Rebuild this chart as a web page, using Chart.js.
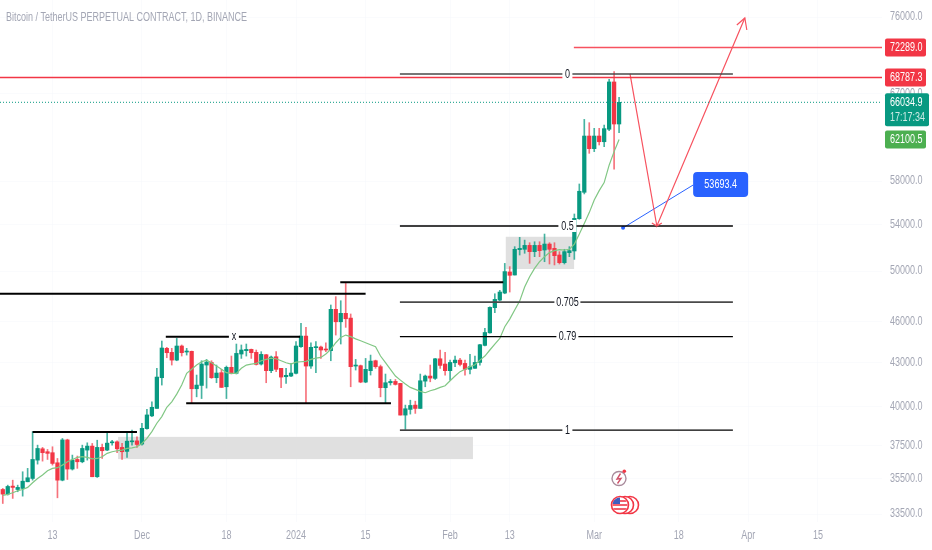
<!DOCTYPE html>
<html>
<head>
<meta charset="utf-8">
<title>Bitcoin / TetherUS</title>
<script src="https://cdn.jsdelivr.net/npm/chart.js@4/dist/chart.umd.min.js"></script>
<style>
  html, body { margin: 0; padding: 0; background: #fff; }
  canvas { display: block; }
</style>
</head>
<body>
<canvas id="grafica" width="932" height="550"></canvas>
<script>
/* day 0 is 2024-01-01, the first candle is 2023-11-03 */
var firstDay = -59;
var opens = [
  34890,34625,35085,34890,34950,35335,35530,36620,37310,37130,
  37070,36460,35430,37860,36085,36660,36520,37230,37475,35630,
  37395,37230,37680,37740,37395,37150,37740,37800,37600,38570,
  39390,39875,41945,44025,43735,43180,44195,43760,43810,41190,
  41415,42830,43015,41945,42295,41325,42670,42250,43615,43855,
  43950,43735,42900,43565,42435,43420,42600,42015,42060,42250,
  44145,44925,42760,44075,44120,43950,43855,46950,45995,46640,
  46275,42760,42785,41645,42435,43135,42715,41260,41600,41690,
  41555,39440,39810,40095,39875,41710,42060,41900,43275,42900,
  42435,42990,43180,42945,42530,42600,43015,44240,45165,47075,
  47670,48225,49930,49680,51800,51830,52165,51630,52165,51770,
  52280,51910,51345,50700,51545,51685,54510,56935,62465,61180,
  62465,61880,63165,68285,63715
];
var highs = [
  34950,35140,35430,35140,35925,36125,38380,37535,37395,37270,
  37435,36720,37950,37905,36925,36865,37535,37680,37640,37840,
  37600,38380,37840,37800,37640,38380,38485,38055,38915,39820,
  40310,42600,44560,44100,44025,44755,44270,44025,43830,42130,
  43135,43230,43135,42830,42530,42760,43470,44340,44270,44340,
  43975,43905,43785,43590,43470,43785,42600,42600,42945,44510,
  45870,45575,44435,44510,44195,44435,47285,47940,47620,49000,
  46590,43230,42830,43300,43540,43180,42830,42200,41825,41825,
  41555,40095,40420,40355,42200,42130,42830,43300,43905,43735,
  43180,43470,43300,43180,43590,43470,44315,45500,47150,48170,
  48440,50640,50370,52055,52860,52620,52395,52480,52480,53150,
  52395,52395,51630,51830,52055,54935,57720,64200,63855,63265,
  63265,63610,68585,69460,66575
];
var lows = [
  34095,34570,34380,34760,34510,35335,35430,36380,36560,36660,
  36320,34415,35390,35470,36025,36125,36460,36620,35630,35590,
  36720,37190,37535,37070,36660,36785,37535,37395,37535,38530,
  39345,39875,41440,43350,42830,43135,43470,43540,40245,40645,
  40530,41235,41900,41600,41280,40530,42205,42205,43300,43470,
  43300,42830,42830,41600,42295,42365,41260,41555,42015,42205,
  44095,40245,42600,42295,43300,43785,43135,45000,44340,45575,
  41325,42480,41600,41600,42130,42600,40645,40245,41440,41440,
  39440,38540,39505,39550,39875,41325,41665,41825,42600,42130,
  41780,42715,42760,42130,42205,42600,42830,44195,45140,46690,
  47620,48170,48305,49680,51345,51490,50645,51205,51205,50780,
  50590,50510,50590,50590,51205,50975,54450,56780,60710,60880,
  61550,61380,63020,59135,62810
];
var closes = [
  34625,35065,35010,35010,35370,35570,36660,37330,37070,37030,
  36420,35430,37860,36085,36620,36520,37330,37475,35630,37395,
  37190,37660,37720,37310,37130,37780,37780,37575,38590,39450,
  39950,41990,44050,43710,43180,44195,43710,43810,41190,41440,
  42900,43040,41945,42270,41280,42670,42250,43660,43905,43950,
  43710,42875,43590,42435,43400,42530,41990,42110,42270,44195,
  44925,42760,44100,44120,43905,43905,46950,45995,46640,46225,
  42715,42810,41645,42530,43110,42715,41260,41600,41690,41485,
  39440,39855,40070,39875,41735,42060,41920,43275,42805,42435,
  43015,43180,42875,42530,42715,43015,44290,45190,47100,47725,
  48305,49960,49655,51830,51910,52165,51630,52165,51715,52280,
  51830,51290,50700,51630,51715,54540,57030,62465,61180,62465,
  61880,63230,68285,63715,66034.9
];
var maValues = [
  34550,34610,34705,34820,34890,35010,35280,35530,35730,35985,
  36125,36165,36320,36520,36660,36785,36825,36785,36700,36720,
  36825,37030,37130,37190,37230,37330,37370,37435,37640,37950,
  38380,38915,39345,39950,40310,40825,41440,42250,42530,42830,
  43065,43180,42995,42760,42530,42295,42250,42250,42600,42830,
  42900,42945,43135,43230,43325,43275,43135,42995,42900,43040,
  43065,43090,43230,43325,43375,43615,43950,44435,44825,45000,
  44880,44720,44580,44435,44290,44145,43470,42995,42530,42060,
  41780,41510,41280,41145,41010,40920,41055,41145,41280,41395,
  41735,42060,42365,42530,42715,42850,43180,43470,43905,44340,
  44755,45625,46200,46895,47590,48700,49545,50230,50780,51205,
  51545,51715,51800,51770,51830,52280,53150,54090,55060,56210,
  57090,57850,59535,60880,62100.5
];

var tickDays = [-49, -31, -14, 0, 14, 31, 43, 60, 77, 91, 105];
var tickLabels = ["13", "Dec", "18", "2024", "15", "Feb", "13", "Mar", "18", "Apr", "15"];
var priceTicks = [33500, 35500, 37500, 40000, 43000, 46000, 50000, 54000, 58000, 67000, 76000];

/* dibujos sobre la grafica: [day from, day to, price] */
var blackLines = [
  [-53, -32, 38360],
  [-26.2, 0.8, 44880],
  [-22.1, 19.1, 40225],
  [-60, 14, 48175],
  [8.9, 41.7, 49100]
];
var fibFrom = 20.9;
var fibTo = 87.9;
var fibNames = ["0", "0.5", "0.705", "0.79", "1"];
var fibPrices = [69190, 53860, 47510, 44890, 38470];
var fibLabelDay = 54.6;
var xMarkDay = -12.5;
/* [day from, day to, price top, price bottom] */
var greyZones = [
  [-35.8, 35.6, 38050, 36680],
  [42.2, 55.95, 52910, 50175]
];
var swingDays = [67.2, 72.6, 90.3];
var swingPrices = [69190, 53860, 75875];
var blueDays = [65.8, 79.9];
var bluePrices = [53693.4, 57620];
var upperLinePrice = 72289;
var upperLineFrom = 55.9;
var redLinePrice = 68787.3;
var lastPrice = 66034.9;
var maLast = 62100.5;
var countdown = "17:17:34";

var GREEN = "#089981";
var RED = "#f23645";
var SOFT_RED = "#f7525f";
var TEXT_FONT = "'Liberation Sans', sans-serif";
var TEXT_SQUEEZE = 0.75;
var DAY_MIN = -59.56;
var DAY_MAX = 117.9;

var candleDays = opens.map(function(o, i){ return firstDay + i; });
var candleColors = opens.map(function(o, i){ return closes[i] >= o ? GREEN : RED; });
var wickColors = opens.map(function(o, i){ return closes[i] >= o ? "rgba(8,153,129,0.75)" : "rgba(242,54,69,0.7)"; });

function lineSet(points, color, width, extra){
  var set = {
    type: "line",
    data: points,
    borderColor: color,
    borderWidth: width,
    pointRadius: 0,
    tension: 0,
    order: 1
  };
  for (var k in extra) { set[k] = extra[k]; }
  return set;
}
function hLine(from, to, price, color, width, extra){
  return lineSet([{x: from, y: price}, {x: to, y: price}], color, width, extra);
}

var datasets = [];
datasets.push({
  type: "bar",
  data: candleDays.map(function(d, i){ return {x: d, y: [lows[i], highs[i]]}; }),
  backgroundColor: wickColors,
  barThickness: 1,
  grouped: false,
  order: 4
});
datasets.push({
  type: "bar",
  data: candleDays.map(function(d, i){ return {x: d, y: [opens[i], closes[i]]}; }),
  backgroundColor: candleColors,
  barThickness: 3.6,
  minBarLength: 1,
  grouped: false,
  order: 3
});
datasets.push(lineSet(candleDays.map(function(d, i){ return {x: d, y: maValues[i]}; }), "#81c784", 1.2, {order: 2}));

blackLines.forEach(function(l){
  datasets.push(hLine(l[0], l[1], l[2], "#000000", 2));
});
fibPrices.forEach(function(p, i){
  var thick = fibNames[i] == "0" || fibNames[i] == "0.705";
  datasets.push(hLine(fibFrom, fibTo, p, thick ? "#4a4a4a" : "#000000", thick ? 1.6 : 1.3));
});
datasets.push(hLine(DAY_MIN, DAY_MAX, redLinePrice, RED, 1.4));
datasets.push(hLine(upperLineFrom, DAY_MAX, upperLinePrice, SOFT_RED, 1.5));
datasets.push(hLine(DAY_MIN, DAY_MAX, lastPrice, GREEN, 1, {borderDash: [1, 2]}));
datasets.push(lineSet(swingDays.map(function(d, i){ return {x: d, y: swingPrices[i]}; }), SOFT_RED, 1.2));
datasets.push(lineSet(blueDays.map(function(d, i){ return {x: d, y: bluePrices[i]}; }), "#2962ff", 1, {
  pointRadius: [2, 0],
  pointBackgroundColor: "#2962ff",
  pointBorderWidth: 0
}));

function arrowHead(ctx, x, y, x1, y1, x2, y2, color){
  ctx.strokeStyle = color;
  ctx.lineWidth = 1.2;
  ctx.beginPath();
  ctx.moveTo(x + x1, y + y1);
  ctx.lineTo(x, y);
  ctx.lineTo(x + x2, y + y2);
  ctx.stroke();
}
function priceTag(ctx, y, h, color, text, sub){
  ctx.fillStyle = color;
  ctx.beginPath();
  ctx.roundRect(885, y - 9, sub ? 44 : 41, h, 2);
  ctx.fill();
  ctx.fillStyle = "#ffffff";
  ctx.font = "12px " + TEXT_FONT;
  ctx.textAlign = "left";
  ctx.textBaseline = "middle";
  ctx.fillText(text, 890, y + 0.5);
  if (sub) {
    ctx.fillStyle = "rgba(255,255,255,0.8)";
    ctx.fillText(sub, 890, y + 15.5);
  }
}
function chartLabel(ctx, text, x, y, w){
  ctx.fillStyle = "#ffffff";
  ctx.fillRect(x - w / 2, y - 6, w, 12);
  ctx.fillStyle = "#131722";
  ctx.font = "12px " + TEXT_FONT;
  ctx.textAlign = "center";
  ctx.textBaseline = "middle";
  ctx.fillText(text, x, y + 0.5);
}
function drawIcons(ctx){
  /* rayo */
  ctx.strokeStyle = "#a98b9c";
  ctx.lineWidth = 1.4;
  ctx.beginPath();
  ctx.arc(619, 478.5, 7, 0, Math.PI * 2);
  ctx.stroke();
  ctx.strokeStyle = "#d0526a";
  ctx.beginPath();
  ctx.moveTo(620.5, 473.5);
  ctx.lineTo(617, 479);
  ctx.lineTo(621, 478.5);
  ctx.lineTo(617.5, 483.5);
  ctx.stroke();
  ctx.fillStyle = RED;
  ctx.beginPath();
  ctx.arc(624.3, 471.3, 1.8, 0, Math.PI * 2);
  ctx.fill();
  /* banderas */
  [630, 625, 620].forEach(function(cx){
    ctx.fillStyle = "#ffffff";
    ctx.strokeStyle = RED;
    ctx.lineWidth = 1.6;
    ctx.beginPath();
    ctx.arc(cx, 505, 8.5, 0, Math.PI * 2);
    ctx.fill();
    ctx.stroke();
  });
  ctx.save();
  ctx.beginPath();
  ctx.arc(620, 505, 7.6, 0, Math.PI * 2);
  ctx.clip();
  ctx.fillStyle = "#f0606c";
  ctx.fillRect(612, 500, 16, 2);
  ctx.fillRect(612, 504, 16, 2);
  ctx.fillRect(612, 508, 16, 2);
  ctx.fillStyle = "#3f5fc0";
  ctx.fillRect(612, 497, 8, 7);
  ctx.restore();
}

var overlayPlugin = {
  id: "overlay",
  beforeDatasetsDraw: function(chart){
    var ctx = chart.ctx, x = chart.scales.x, y = chart.scales.y;
    ctx.save();
    ctx.fillStyle = "#e0e0e0";
    greyZones.forEach(function(z){
      var x0 = x.getPixelForValue(z[0]), x1 = x.getPixelForValue(z[1]);
      var y0 = y.getPixelForValue(z[2]), y1 = y.getPixelForValue(z[3]);
      ctx.fillRect(x0, y0, x1 - x0, y1 - y0);
    });
    ctx.restore();
  },
  afterDraw: function(chart){
    var ctx = chart.ctx, x = chart.scales.x, y = chart.scales.y;
    ctx.save();

    fibPrices.forEach(function(p, i){
      chartLabel(ctx, fibNames[i], x.getPixelForValue(fibLabelDay), y.getPixelForValue(p), fibNames[i].length * 4 + 6);
    });
    chartLabel(ctx, "x", x.getPixelForValue(xMarkDay), y.getPixelForValue(blackLines[1][2]), 10);

    arrowHead(ctx, x.getPixelForValue(swingDays[1]), y.getPixelForValue(swingPrices[1]), -5, -3, 5, -3, SOFT_RED);
    arrowHead(ctx, x.getPixelForValue(swingDays[2]), y.getPixelForValue(swingPrices[2]), -8, 7, 2, 12, SOFT_RED);

    /* etiqueta azul */
    var bx = x.getPixelForValue(blueDays[1]), by = y.getPixelForValue(bluePrices[1]);
    ctx.fillStyle = "#2962ff";
    ctx.beginPath();
    ctx.roundRect(bx, by - 13, 55, 25, 4);
    ctx.fill();
    ctx.fillStyle = "#ffffff";
    ctx.font = "12px " + TEXT_FONT;
    ctx.textAlign = "center";
    ctx.textBaseline = "middle";
    ctx.fillText(bluePrices[0].toFixed(1), bx + 27.5, by - 0.5);

    drawIcons(ctx);

    priceTag(ctx, y.getPixelForValue(upperLinePrice), 18, RED, upperLinePrice.toFixed(1));
    priceTag(ctx, y.getPixelForValue(redLinePrice), 18, RED, redLinePrice.toFixed(1));
    priceTag(ctx, y.getPixelForValue(lastPrice), 33, GREEN, lastPrice.toFixed(1), countdown);
    priceTag(ctx, y.getPixelForValue(maLast), 18, "#4caf50", maLast.toFixed(1));

    ctx.fillStyle = "#a3a6b4";
    ctx.font = "12px " + TEXT_FONT;
    ctx.textAlign = "left";
    ctx.textBaseline = "middle";
    ctx.fillText("Bitcoin / TetherUS PERPETUAL CONTRACT, 1D, BINANCE", 6, 18);
    ctx.restore();
  }
};

var ctx = document.getElementById("grafica").getContext("2d");

/* el texto de la referencia es angosto: se comprime todo con el maxWidth de fillText */
var plainFillText = ctx.fillText;
ctx.fillText = function(text, x, y){
  plainFillText.call(this, text, x, y, this.measureText(text).width * TEXT_SQUEEZE);
};

var chart = new Chart(ctx, {
  data: { datasets: datasets },
  plugins: [overlayPlugin],
  options: {
    responsive: false,
    animation: false,
    devicePixelRatio: 1,
    layout: { padding: 0, autoPadding: false },
    plugins: { legend: { display: false }, tooltip: { enabled: false }, title: { display: false } },
    scales: {
      x: {
        type: "linear",
        offset: false,
        min: DAY_MIN,
        max: DAY_MAX,
        afterBuildTicks: function(axis){
          axis.ticks = tickDays.map(function(d){ return {value: d}; });
        },
        afterFit: function(axis){
          axis.height = 28;
          axis.paddingLeft = 0;
          axis.paddingRight = 0;
        },
        ticks: {
          autoSkip: false,
          maxRotation: 0,
          padding: 6,
          color: "#a3a6b4",
          font: { family: TEXT_FONT, size: 12 },
          callback: function(v){ return tickLabels[tickDays.indexOf(v)]; }
        },
        grid: { color: "rgba(240,243,250,0.3)", drawTicks: false, offset: false },
        border: { display: false }
      },
      y: {
        type: "logarithmic",
        position: "right",
        bounds: "data",
        min: 33070,
        max: 78159,
        afterBuildTicks: function(axis){
          axis.ticks = priceTicks.map(function(p){ return {value: p}; });
        },
        afterFit: function(axis){
          axis.width = 50;
          axis.paddingTop = 0;
          axis.paddingBottom = 0;
        },
        ticks: {
          autoSkip: false,
          padding: 8,
          color: "#a3a6b4",
          font: { family: TEXT_FONT, size: 12 },
          callback: function(v){ return v.toFixed(1); }
        },
        grid: { color: "rgba(240,243,250,0.3)", drawTicks: false },
        border: { display: false }
      }
    }
  }
});
</script>
</body>
</html>
